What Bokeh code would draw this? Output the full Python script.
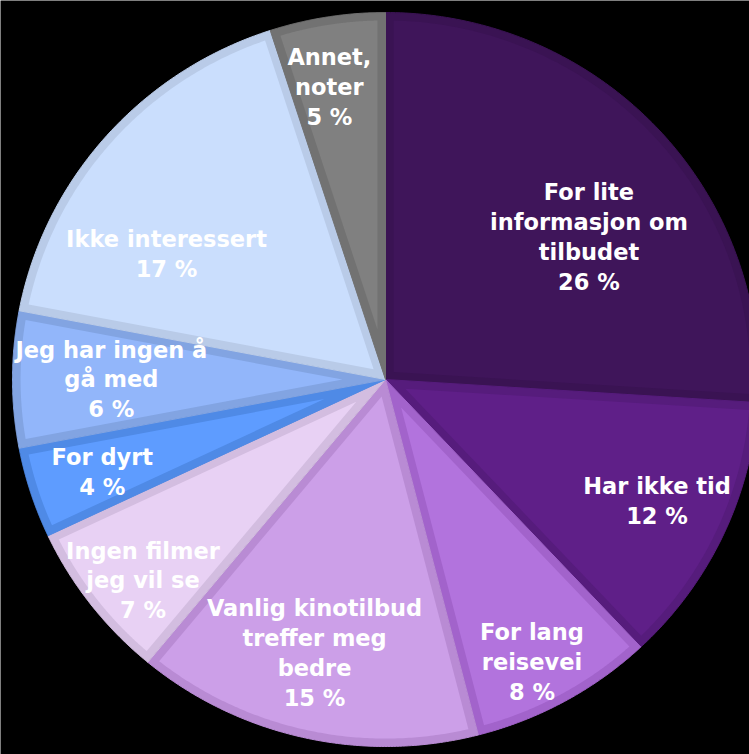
import numpy as np
from bokeh.plotting import figure
from bokeh.models import Range1d, ColumnDataSource
from bokeh.embed import file_html
from bokeh.resources import INLINE
from bokeh.core.properties import value

# ---- data ----
categories = [
    "For lite\ninformasjon om\ntilbudet",
    "Har ikke tid",
    "For lang\nreisevei",
    "Vanlig kinotilbud\ntreffer meg\nbedre",
    "Ingen filmer\njeg vil se",
    "For dyrt",
    "Jeg har ingen å\ngå med",
    "Ikke interessert",
    "Annet,\nnoter",
]
shares = [26, 12, 8, 15, 7, 4, 6, 17, 5]

# ---- styles ----
fill_colors = ["#3f155a", "#5f1f88", "#b273dd", "#cc9fe8", "#e8d1f4",
               "#5e9cff", "#92b6fa", "#cadefd", "#808080"]
band_colors = ["#3a1353", "#561c7c", "#a263cb", "#b98bd4", "#d3bde0",
               "#4f8ae6", "#82a4e2", "#b9cbe8", "#727272"]
label_r = [0.67, 0.80, 0.865, 0.77, 0.85, 0.80, 0.735, 0.68, 0.81]
label_da = [7.7, -0.7, 1.8, 1.7, -2.3, -0.4, 0.0, -11.1, -1.7]

# ---- layout (pixel-like data units) ----
W, H = 749, 754
CX, CY = 385.0, 379.0
RX, RY = 373.0, 367.0
BAND = 8.0
R_MEAN = (RX + RY) / 2.0


def pol(t_deg, r):
    t = np.radians(t_deg)
    return CX + RX * r * np.sin(t), CY - RY * r * np.cos(t)


total = float(sum(shares))
cum = np.concatenate([[0.0], np.cumsum(shares)]) / total * 360.0

outer_xs, outer_ys, inner_xs, inner_ys = [], [], [], []
lx, ly, ltext = [], [], []
for i, v in enumerate(shares):
    a1, a2 = cum[i], cum[i + 1]
    ts = np.linspace(a1, a2, 120)
    x, y = pol(ts, 1.0)
    outer_xs.append([CX] + list(x))
    outer_ys.append([CY] + list(y))
    dd = BAND / R_MEAN
    half = np.radians((a2 - a1) / 2.0)
    apex_r = dd / np.sin(half)
    mid = (a1 + a2) / 2.0
    ax, ay = pol(mid, apex_r)
    delta = np.degrees(np.arcsin(dd / (1 - dd)))
    ts2 = np.linspace(a1 + delta, a2 - delta, 120)
    x2, y2 = pol(ts2, 1 - dd)
    inner_xs.append([float(ax)] + list(x2))
    inner_ys.append([float(ay)] + list(y2))
    px, py = pol(mid + label_da[i], label_r[i])
    lx.append(float(px))
    ly.append(float(py))
    ltext.append(f"{categories[i]}\n{v} %")

p = figure(width=W, height=H, output_backend="svg", toolbar_location=None,
           x_range=Range1d(0, W), y_range=Range1d(H, 0),
           min_border=0, min_border_left=0, min_border_right=0,
           min_border_top=0, min_border_bottom=0)
p.axis.visible = False
p.grid.visible = False
p.outline_line_color = None
p.background_fill_color = "black"
p.border_fill_color = "black"

p.patches(xs=outer_xs, ys=outer_ys, fill_color=band_colors,
          line_color=band_colors, line_width=1)
p.patches(xs=inner_xs, ys=inner_ys, fill_color=fill_colors,
          line_color=None)

src = ColumnDataSource(dict(x=lx, y=ly, text=ltext))
p.text(x="x", y="y", text="text", source=src, text_color="white",
       text_font=value("DejaVu Sans"), text_font_style="bold",
       text_font_size="22.5px", text_align="center", text_baseline="middle",
       text_line_height=1.15)

open("out.html", "w").write(file_html(p, INLINE))
